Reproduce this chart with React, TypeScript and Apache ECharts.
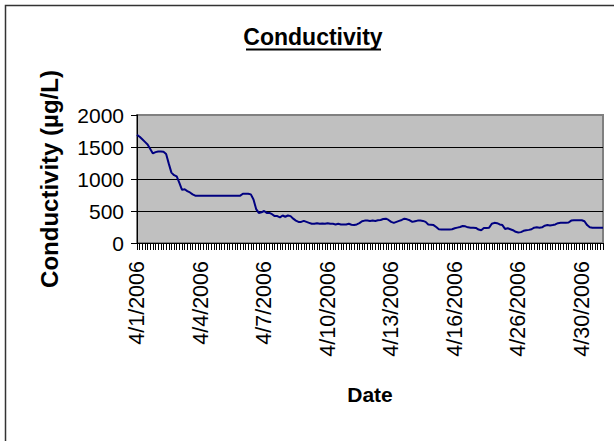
import React, { useEffect, useRef } from "react";
import * as echarts from "echarts";

// Sampling days (8 readings per day, every 3 hours)
const sampleDays = [
  "4/1/2006", "4/2/2006", "4/3/2006", "4/4/2006", "4/5/2006", "4/6/2006",
  "4/7/2006", "4/8/2006", "4/9/2006", "4/10/2006", "4/11/2006", "4/12/2006",
  "4/13/2006", "4/14/2006", "4/15/2006", "4/16/2006", "4/17/2006", "4/18/2006",
  "4/26/2006", "4/27/2006", "4/28/2006", "4/30/2006", "5/1/2006",
];
const readingTimes = ["0:00", "3:00", "6:00", "9:00", "12:00", "15:00", "18:00", "21:00"];

// Conductivity readings (µg/L), grouped by the labelled 3-day periods
const conductivityApr1 = [
  1690, 1660, 1620, 1580, 1540, 1470, 1400, 1420, 1430, 1430, 1425, 1390,
  1240, 1100, 1060, 1040, 940, 830, 840, 810, 790, 760, 740, 740,
];
const conductivityApr4 = [
  740, 740, 740, 740, 740, 740, 740, 740, 740, 740, 740, 740,
  740, 740, 740, 740, 770, 770, 770, 760, 680, 530, 470, 480,
];
const conductivityApr7 = [
  500, 470, 470, 450, 420, 420, 400, 430, 410, 430, 420, 380,
  350, 330, 330, 345, 330, 315, 300, 300, 310, 300, 305, 300,
];
const conductivityApr10 = [
  310, 300, 300, 290, 300, 290, 290, 290, 300, 285, 280, 290,
  310, 340, 350, 350, 345, 350, 345, 355, 360, 375, 380, 360,
];
const conductivityApr13 = [
  330, 315, 330, 345, 360, 380, 370, 355, 330, 340, 350, 350,
  345, 330, 290, 285, 280, 250, 215, 210, 210, 210, 210, 215,
];
const conductivityApr16 = [
  230, 240, 250, 265, 260, 245, 240, 240, 235, 210, 200, 235,
  235, 240, 300, 315, 310, 290, 280, 220, 230, 215, 200, 175,
];
const conductivityApr26 = [
  165, 170, 190, 200, 205, 215, 240, 245, 240, 245, 270, 280,
  275, 280, 290, 310, 315, 315, 315, 320, 350, 355, 355, 355,
];
const conductivityApr30 = [355, 340, 280, 245, 240, 240, 240, 240, 240];

const yTicks = [0, 500, 1000, 1500, 2000];

const FONT = "'Liberation Sans', Arial, Helvetica, sans-serif";

export default function App() {
  const ref = useRef<HTMLDivElement>(null);

  useEffect(() => {
    if (!ref.current) return;
    const chart = echarts.init(ref.current, undefined, { renderer: "svg" });

    const values = [
      ...conductivityApr1,
      ...conductivityApr4,
      ...conductivityApr7,
      ...conductivityApr10,
      ...conductivityApr13,
      ...conductivityApr16,
      ...conductivityApr26,
      ...conductivityApr30,
    ];
    const categories: string[] = [];
    sampleDays.forEach((d) => readingTimes.forEach((t) => categories.push(d + " " + t)));
    const cats = categories.slice(0, values.length);

    chart.setOption({
      animation: false,
      backgroundColor: "#ffffff",
      graphic: [
        {
          type: "rect",
          shape: { x: 5.5, y: 5.5, width: 700, height: 700 },
          style: { fill: "none", stroke: "#333333", lineWidth: 1.5 },
          z: -10,
        },
        {
          type: "text",
          x: 313,
          y: 37,
          style: {
            text: "Conductivity",
            fontFamily: FONT,
            fontWeight: "bold",
            fontSize: 23,
            fill: "#000000",
            textAlign: "center",
            textVerticalAlign: "middle",
          },
        },
        {
          type: "line",
          shape: { x1: 246, y1: 49.5, x2: 381, y2: 49.5 },
          style: { stroke: "#000000", lineWidth: 2 },
        },
      ],
      grid: {
        left: 137,
        top: 115,
        width: 466,
        height: 128,
        show: true,
        backgroundColor: "#C0C0C0",
        borderColor: "#808080",
        borderWidth: 2,
      },
      xAxis: {
        type: "category",
        data: cats,
        boundaryGap: false,
        name: "Date",
        nameLocation: "middle",
        nameGap: 141,
        nameTextStyle: {
          fontFamily: FONT,
          fontWeight: "bold",
          fontSize: 21,
          color: "#000000",
          verticalAlign: "top",
        },
        axisLine: { show: true, lineStyle: { color: "#000000", width: 1 } },
        axisTick: {
          show: true,
          interval: 0,
          length: 7,
          lineStyle: { color: "#000000", width: 1 },
        },
        axisLabel: {
          interval: 23,
          rotate: 90,
          margin: 18,
          fontFamily: FONT,
          fontSize: 21.5,
          color: "#000000",
          formatter: (v: string) => v.split(" ")[0],
        },
        splitLine: { show: false },
      },
      yAxis: {
        type: "value",
        min: yTicks[0],
        max: yTicks[yTicks.length - 1],
        interval: 500,
        name: "Conductivity (µg/L)",
        nameLocation: "middle",
        nameGap: 76,
        nameRotate: 90,
        nameTextStyle: {
          fontFamily: FONT,
          fontWeight: "bold",
          fontSize: 24,
          color: "#000000",
        },
        axisLine: { show: true, lineStyle: { color: "#000000", width: 1 } },
        axisTick: { show: true, length: 6, lineStyle: { color: "#000000" } },
        axisLabel: {
          margin: 13,
          fontFamily: FONT,
          fontSize: 21,
          color: "#000000",
          formatter: (v: number) => String(v),
        },
        splitLine: {
          show: true,
          showMinLine: false,
          showMaxLine: false,
          lineStyle: { color: "#000000", width: 1 },
        },
      },
      series: [
        {
          type: "line",
          data: values,
          showSymbol: false,
          symbol: "none",
          lineStyle: { color: "#000080", width: 2 },
          itemStyle: { color: "#000080" },
        },
      ],
    });

    return () => chart.dispose();
  }, []);

  return (
    <div
      ref={ref}
      style={{ position: "absolute", left: 0, top: 0, width: 614, height: 441 }}
    />
  );
}
